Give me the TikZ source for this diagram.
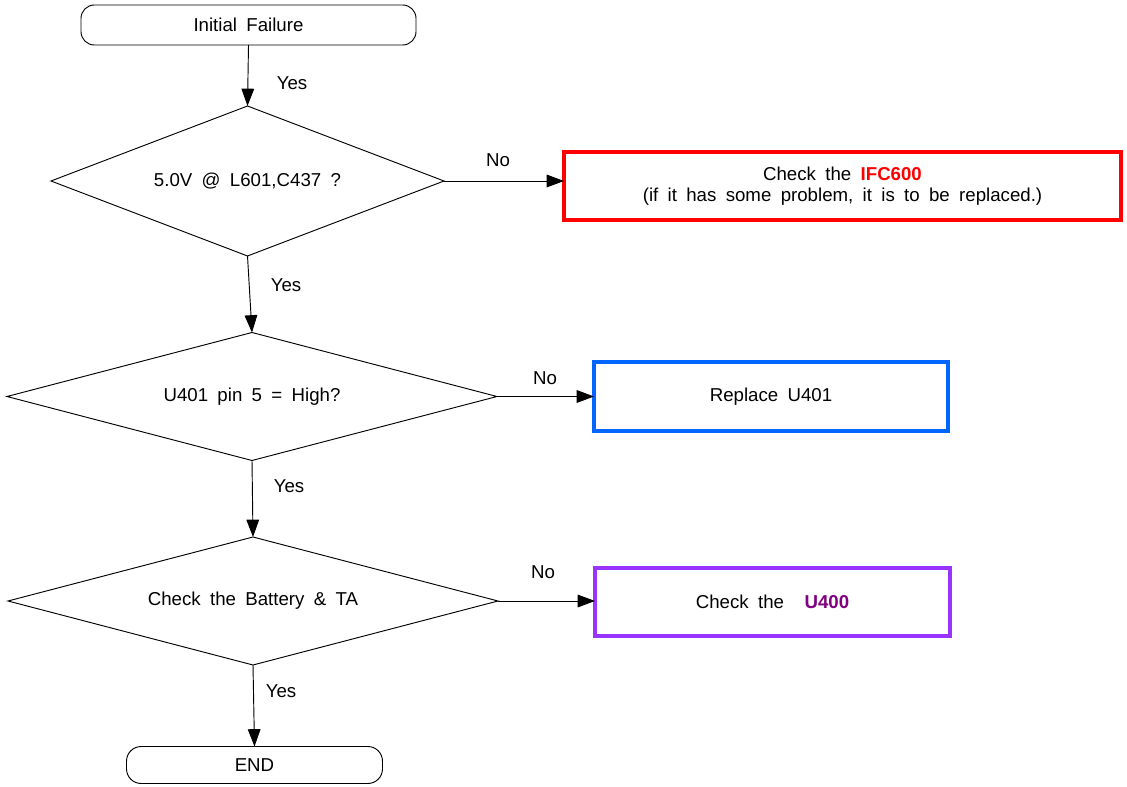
\documentclass[tikz,border=0pt]{standalone}
\usepackage{fontspec}
\setmainfont{Liberation Sans}
\usetikzlibrary{arrows.meta}
\definecolor{boxred}{RGB}{255,0,0}
\definecolor{boxblue}{RGB}{0,102,255}
\definecolor{boxpurple}{RGB}{153,51,255}
\definecolor{txtpurple}{RGB}{128,0,128}
\newcommand{\myfont}{\fontsize{14pt}{15.5pt}\selectfont\spaceskip=0.5em plus 0.1em\relax}
\begin{document}
\begin{tikzpicture}[x=0.75pt,y=-0.75pt,
  every node/.style={font=\myfont},
  term/.style={draw=black,line width=0.7pt,rounded corners=10pt,inner sep=0pt,outer sep=0pt},
  decide/.style={rectangle,inner sep=0pt,outer sep=0pt},
  dline/.style={draw=black,line width=0.7pt},
  actbox/.style={line width=2.4pt,inner sep=0pt,outer sep=0pt,align=center},
  conn/.style={draw=black,line width=0.7pt,-{Triangle[length=13pt,width=9.5pt]}},
  lbl/.style={inner sep=0pt}]
\useasboundingbox (0,0) rectangle (1127,787);

\node[term,minimum width=251.25pt,minimum height=30pt] (start) at (248.5,25) {Initial Failure};
\node[decide,minimum width=294.75pt,minimum height=112.5pt] (d1) at (247.5,181) {5.0V @ L601,C437 ?};
\node[decide,minimum width=367.5pt,minimum height=96pt] (d2) at (252,396.5) {U401 pin 5 = High?};
\node[decide,minimum width=367.5pt,minimum height=96pt] (d3) at (253,601) {Check the Battery \& TA};
\node[term,rounded corners=11pt,minimum width=192pt,minimum height=27.75pt] (end) at (254.5,765) {END};

\draw[dline] (d1.north) -- (d1.east) -- (d1.south) -- (d1.west) -- cycle;
\draw[dline] (d2.north) -- (d2.east) -- (d2.south) -- (d2.west) -- cycle;
\draw[dline] (d3.north) -- (d3.east) -- (d3.south) -- (d3.west) -- cycle;

\node[actbox,draw=boxred,minimum width=417.75pt,minimum height=51pt] (red) at (842.5,186)
  {Check the \textbf{\color{boxred}IFC600}\\(if it has some problem, it is to be replaced.)};
\node[actbox,draw=boxblue,minimum width=265.5pt,minimum height=51.75pt] (blue) at (771,396.5) {Replace U401};
\node[actbox,draw=boxpurple,minimum width=266.25pt,minimum height=51pt] (purple) at (772.5,602)
  {Check the\hspace{0.6em} \textbf{\color{txtpurple}U400}};

\draw[conn] (start.south) -- (d1.north);
\draw[conn] (d1.south) -- (d2.north);
\draw[conn] (d2.south) -- (d3.north);
\draw[conn] (d3.south) -- (end.north);
\draw[conn] (d1.east) -- (d1.east -| red.west);
\draw[conn] (d2.east) -- (d2.east -| blue.west);
\draw[conn] (d3.east) -- (d3.east -| purple.west);

\node[lbl] (y1) at (292,83) {Yes};
\node[lbl] (y2) at (286,285) {Yes};
\node[lbl] (y3) at (289,486) {Yes};
\node[lbl] (y4) at (281,691) {Yes};
\node[lbl] (n1) at (498,160) {No};
\node[lbl] (n2) at (545,378) {No};
\node[lbl] (n3) at (543,572) {No};
\end{tikzpicture}
\end{document}
